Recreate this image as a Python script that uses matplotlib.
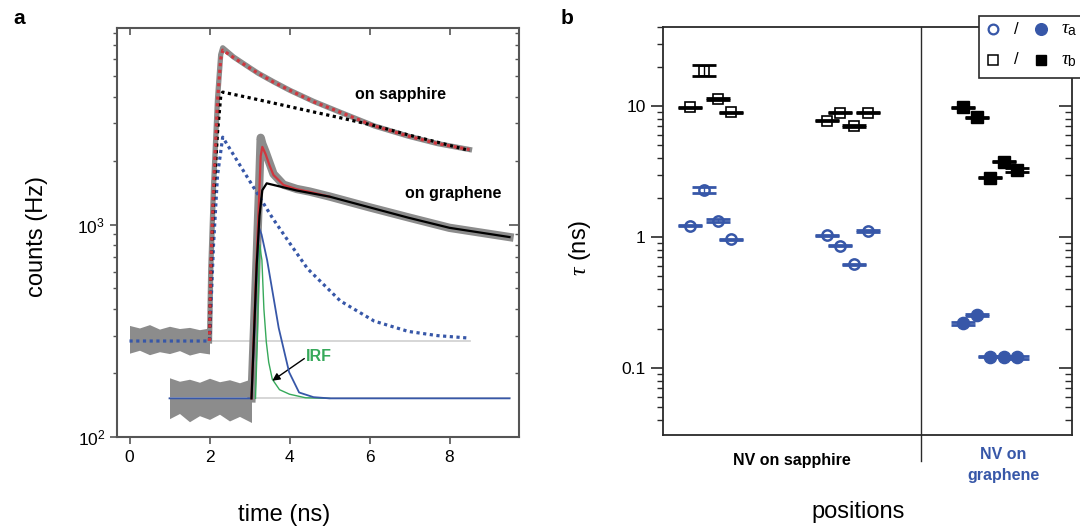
import matplotlib
matplotlib.use("Agg")
import matplotlib.pyplot as plt
from matplotlib.lines import Line2D
from matplotlib.patches import Rectangle
from matplotlib.ticker import NullFormatter

plt.rcParams['font.family'] = ['Liberation Sans', 'DejaVu Sans']
plt.rcParams['mathtext.fontset'] = 'custom'
plt.rcParams['mathtext.rm'] = 'Liberation Sans'
plt.rcParams['mathtext.it'] = 'Liberation Serif:italic'
plt.rcParams['mathtext.bf'] = 'Liberation Sans:bold'

BLUE = '#3757a8'
RED = '#d0363e'
GREEN = '#36a95a'
GRAY = '#8c8c8c'

# ---- panel a: decay traces ----
# NV on sapphire
sapph_noise_t = [0.0, 0.25, 0.5, 0.75, 1.0, 1.25, 1.5, 1.75, 2.0]
sapph_noise_lo = [248, 256, 244, 252, 247, 255, 243, 250, 246]
sapph_noise_hi = [335, 326, 338, 322, 332, 324, 328, 320, 326]
sapph_data_t = [2.0, 2.03, 2.1, 2.2, 2.28, 2.33, 2.6, 3.0, 3.22, 3.6, 4.0, 4.6, 5.27, 6.12, 6.97, 7.7, 8.5]
sapph_data = [283, 600, 1500, 3900, 6300, 6790, 6150, 5480, 5150, 4700, 4290, 3800, 3375, 2911, 2606, 2404, 2254]
sapph_fit_t = [2.0, 2.03, 2.1, 2.2, 2.28, 2.33, 2.6, 3.0, 3.22, 3.6, 4.0, 4.6, 5.27, 6.12, 6.97, 7.7, 8.5]
sapph_fit = [283, 600, 1500, 3800, 6000, 6620, 6110, 5460, 5150, 4680, 4290, 3785, 3375, 2911, 2606, 2404, 2254]
sapph_b_t = [2.0, 2.03, 2.1, 2.2, 2.28, 2.33, 3.0, 3.57, 4.5, 5.27, 6.1, 6.97, 7.7, 8.5]
sapph_b = [283, 550, 1300, 2700, 4000, 4200, 3950, 3740, 3420, 3180, 2930, 2640, 2440, 2230]
sapph_a_t = [0.0, 2.0, 2.1, 2.2, 2.33, 2.8, 3.57, 4.0, 4.45, 5.27, 6.12, 6.97, 7.7, 8.5]
sapph_a = [283, 283, 800, 1700, 2577, 1850, 1077, 820, 620, 437, 351, 314, 300, 292]
sapph_base_t = [2.0, 8.5]
sapph_base = [283, 283]

# NV on graphene
graph_noise_t = [1.0, 1.25, 1.5, 1.75, 2.0, 2.25, 2.5, 2.75, 3.05]
graph_noise_lo = [122, 129, 118, 126, 121, 128, 119, 125, 117]
graph_noise_hi = [190, 183, 187, 181, 189, 182, 186, 180, 188]
graph_data_t = [3.05, 3.12, 3.18, 3.23, 3.28, 3.32, 3.4, 3.5, 3.6, 3.85, 4.18, 4.5, 5.0, 6.0, 7.0, 8.0, 9.5]
graph_data = [152, 350, 700, 1300, 2560, 2400, 2200, 1950, 1730, 1540, 1470, 1430, 1355, 1205, 1077, 965, 873]
graph_fit_t = [3.05, 3.12, 3.18, 3.23, 3.28, 3.32, 3.4, 3.5, 3.6, 3.85, 4.18, 4.5, 5.0]
graph_fit = [152, 350, 700, 1200, 2100, 2320, 2150, 1900, 1710, 1535, 1466, 1425, 1353]
graph_b_t = [3.05, 3.12, 3.18, 3.25, 3.32, 3.43, 4.18, 5.0, 6.0, 6.97, 8.0, 9.5]
graph_b = [152, 330, 650, 1100, 1450, 1563, 1446, 1353, 1205, 1077, 965, 873]
graph_a_t = [1.0, 3.05, 3.12, 3.18, 3.24, 3.3, 3.44, 3.6, 3.73, 3.99, 4.24, 4.6, 5.0, 9.5]
graph_a = [152, 152, 300, 600, 964, 900, 681, 454, 326, 202, 162, 154, 152, 152]
irf_t = [3.15, 3.2, 3.24, 3.26, 3.29, 3.31, 3.36, 3.42, 3.48, 3.57, 3.75, 4.0, 4.4, 5.0]
irf = [152, 300, 700, 802, 720, 681, 400, 280, 225, 187, 167, 159, 153, 152]
graph_base_t = [1.0, 9.5]
graph_base = [152, 152]

# ---- panel b: lifetimes ----
sapph_pos = [2, 3, 4, 5, 12, 13, 14, 15]
sapph_tau_a = [1.22, 2.29, 1.33, 0.96, 1.03, 0.86, 0.62, 1.12]
sapph_tau_a_err = [0.012, 0.13, 0.035, 0.008, 0.01, 0.01, 0.006, 0.02]
sapph_tau_b = [9.8, 18.6, 11.3, 8.95, 7.72, 8.9, 7.03, 8.9]
sapph_tau_b_err = [0.1, 1.8, 0.12, 0.09, 0.08, 0.09, 0.07, 0.09]
graph_pos = [22, 23, 24, 25, 26]
graph_tau_a = [0.219, 0.254, 0.122, 0.122, 0.121]
graph_tau_a_err = [0.007, 0.003, 0.001, 0.001, 0.003]
graph_tau_b = [9.78, 8.2, 2.84, 3.76, 3.24]
graph_tau_b_err = [0.1, 0.08, 0.03, 0.04, 0.13]

fig = plt.figure(figsize=(10.8, 5.29), dpi=100)
W, H = 1080, 529

def rect(l, t, r, b):
    return [l / W, 1 - b / H, (r - l) / W, (b - t) / H]

# ================= panel a =================
ax = fig.add_axes(rect(117, 28, 519, 437))
ax.set_yscale('log')
xlim_a = (-0.3125, 9.7375)
ylim_a = (100, 8414)

ax.fill_between(sapph_noise_t, sapph_noise_lo, sapph_noise_hi, color=GRAY, lw=0, zorder=1.1)
ax.fill_between(graph_noise_t, graph_noise_lo, graph_noise_hi, color=GRAY, lw=0, zorder=1.1)
ax.plot(sapph_base_t, sapph_base, color='#cfcfcf', lw=1.2, zorder=1.2)
ax.plot(graph_base_t, graph_base, color='#cfcfcf', lw=1.2, zorder=1.2)
ax.plot(sapph_data_t, sapph_data, color=GRAY, lw=3.8, solid_joinstyle='round', zorder=1.5)
ax.plot(graph_data_t, graph_data, color=GRAY, lw=6, solid_joinstyle='round', zorder=1.5)

dots = (0, (1, 1.1))
ax.plot(sapph_a_t, sapph_a, color=BLUE, lw=2.3, ls=dots, zorder=3)
ax.plot(sapph_b_t, sapph_b, color='black', lw=2.3, ls=dots, zorder=3)
ax.plot(sapph_fit_t, sapph_fit, color=RED, lw=2.3, ls=dots, zorder=3.2)

ax.plot(irf_t, irf, color=GREEN, lw=1.0, zorder=3)
ax.plot(graph_a_t, graph_a, color=BLUE, lw=1.3, zorder=3.1)
ax.plot(graph_fit_t, graph_fit, color=RED, lw=1.6, zorder=3.2)
ax.plot(graph_b_t, graph_b, color='black', lw=1.6, zorder=3.3)

ax.text(6.77, 4085, 'on sapphire', fontsize=11.5, fontweight='bold', ha='center', va='center')
ax.text(8.09, 1393, 'on graphene', fontsize=11.5, fontweight='bold', ha='center', va='center')
ax.text(4.4, 238, 'IRF', fontsize=11.5, fontweight='bold', color=GREEN, ha='left', va='center')
ax.annotate('', xy=(3.57, 184), xytext=(4.37, 234),
            arrowprops=dict(arrowstyle='-|>', color='black', lw=1.0, mutation_scale=11, shrinkA=0, shrinkB=0))

ax.set_xlim(*xlim_a)
ax.set_ylim(*ylim_a)
ax.set_xticks([0, 2, 4, 6, 8])
frame_a = '#555555'
for s in ax.spines.values():
    s.set_color(frame_a)
    s.set_linewidth(1.5)
ax.tick_params(axis='x', direction='out', length=5, width=1.2, color=frame_a, labelsize=12.5, pad=4)
ax.tick_params(axis='y', which='major', direction='out', length=5, width=1.2, color=frame_a, labelsize=12.5)
ax.tick_params(axis='y', which='minor', direction='out', length=3, width=1.0, color=frame_a)
ax.yaxis.set_minor_formatter(NullFormatter())

axr = ax.twinx()
axr.set_yscale('log')
axr.set_ylim(*ylim_a)
axr.set_frame_on(False)
axr.tick_params(axis='y', which='major', direction='in', length=7, width=1.2, color=frame_a, labelright=False)
axr.tick_params(axis='y', which='minor', direction='in', length=3, width=1.0, color=frame_a)
axr.yaxis.set_minor_formatter(NullFormatter())

axt = ax.twiny()
axt.set_xlim(*xlim_a)
axt.set_xticks([0, 2, 4, 6, 8])
axt.set_frame_on(False)
axt.tick_params(axis='x', direction='in', length=5, width=1.2, color=frame_a, labeltop=False)

ax.set_ylabel('counts (Hz)', fontsize=17)
ax.yaxis.set_label_coords(-0.172, 0.491)
ax.set_xlabel('time (ns)', fontsize=17)
ax.xaxis.set_label_coords(0.415, -0.165)

# ================= panel b =================
bx = fig.add_axes(rect(663, 27, 1072, 435))
bx.set_yscale('log')
ylim_b = (0.0308, 40.1)

cap = dict(capsize=8.4, capthick=2.0, elinewidth=1.0, fmt='none')
bx.plot(sapph_pos, sapph_tau_b, ls='none', marker='s', ms=7.0, mfc='white', mec='black', mew=1.2, zorder=3)
bx.errorbar(sapph_pos, sapph_tau_b, yerr=sapph_tau_b_err, ecolor='black', zorder=4, **cap)
bx.plot(sapph_pos, sapph_tau_a, ls='none', marker='o', ms=7.4, mfc='white', mec=BLUE, mew=1.8, zorder=3)
bx.errorbar(sapph_pos, sapph_tau_a, yerr=sapph_tau_a_err, ecolor=BLUE, zorder=4, **cap)
bx.plot(graph_pos, graph_tau_b, ls='none', marker='s', ms=8.2, mfc='black', mec='black', zorder=3)
bx.errorbar(graph_pos, graph_tau_b, yerr=graph_tau_b_err, ecolor='black', zorder=4, **cap)
bx.plot(graph_pos, graph_tau_a, ls='none', marker='o', ms=8.8, mfc=BLUE, mec=BLUE, zorder=3)
bx.errorbar(graph_pos, graph_tau_a, yerr=graph_tau_a_err, ecolor=BLUE, zorder=4, **cap)

bx.set_xlim(0, 30)
bx.set_ylim(*ylim_b)
bx.set_xticks([])
bx.set_yticks([0.1, 1, 10])
bx.set_yticklabels(['0.1', '1', '10'])
bx.yaxis.set_minor_formatter(NullFormatter())
frame_b = '#2a2a2a'
for s in bx.spines.values():
    s.set_color(frame_b)
    s.set_linewidth(1.3)
bx.tick_params(axis='y', which='major', direction='out', length=9, width=1.2, color=frame_b, labelsize=12.5)
bx.tick_params(axis='y', which='minor', direction='out', length=4.5, width=1.0, color=frame_b)

bxr = bx.twinx()
bxr.set_yscale('log')
bxr.set_ylim(*ylim_b)
bxr.set_frame_on(False)
bxr.set_yticks([0.1, 1, 10])
bxr.tick_params(axis='y', which='major', direction='in', length=9.5, width=1.2, color=frame_b, labelright=False)
bxr.tick_params(axis='y', which='minor', direction='in', length=5, width=1.0, color=frame_b)
bxr.yaxis.set_minor_formatter(NullFormatter())

# divider between sapphire and graphene positions
bx.plot([18.9, 18.9], [1.0, -0.064], color=frame_b, lw=1.0,
        transform=bx.get_xaxis_transform(), clip_on=False, zorder=2)

bx.set_ylabel(r'$\tau$ (ns)', fontsize=17)
bx.yaxis.set_label_coords(-0.171, 0.458)
bx.set_xlabel('positions', fontsize=17)
bx.xaxis.set_label_coords(0.477, -0.162)

fig.text(792 / W, 1 - 460 / H, 'NV on sapphire', fontsize=11.5, fontweight='bold', ha='center', va='center')
fig.text(1003 / W, 1 - 465 / H, 'NV on\ngraphene', fontsize=11.5, fontweight='bold', color=BLUE,
         ha='center', va='center', linespacing=1.45)

# legend box (runs off the right edge)
fig.add_artist(Rectangle((979 / W, 1 - 78 / H), 120 / W, 62 / H, transform=fig.transFigure,
                         facecolor='white', edgecolor=frame_b, lw=1.2, zorder=10, clip_on=False))
leg_rows = [(29.3, 'o', 'white', BLUE, BLUE, r'$\tau_\mathrm{a}$', 7.0, 8.4),
            (60.0, 's', 'white', 'black', 'black', r'$\tau_\mathrm{b}$', 7.0, 7.4)]
for yy, mk, mfc, mec, fill, lab, ms_open, ms_fill in leg_rows:
    fy = 1 - yy / H
    fig.add_artist(Line2D([993.3 / W], [fy], transform=fig.transFigure, marker=mk, ms=ms_open, mfc=mfc,
                          mec=mec, mew=1.6 if mk == 'o' else 1.1, ls='none', zorder=11))
    fig.add_artist(Line2D([1041 / W], [fy], transform=fig.transFigure, marker=mk, ms=ms_fill, mfc=fill,
                          mec=fill, ls='none', zorder=11))
    fig.text(1016 / W, fy, '/', fontsize=12, ha='center', va='center', zorder=11)
    fig.text(1061 / W, fy, lab, fontsize=14, ha='left', va='center', zorder=11)

fig.text(19 / W, 1 - 18 / H, 'a', fontsize=15, fontweight='bold', ha='center', va='center')
fig.text(567 / W, 1 - 18 / H, 'b', fontsize=15, fontweight='bold', ha='center', va='center')

fig.savefig('out.png', dpi=100)
